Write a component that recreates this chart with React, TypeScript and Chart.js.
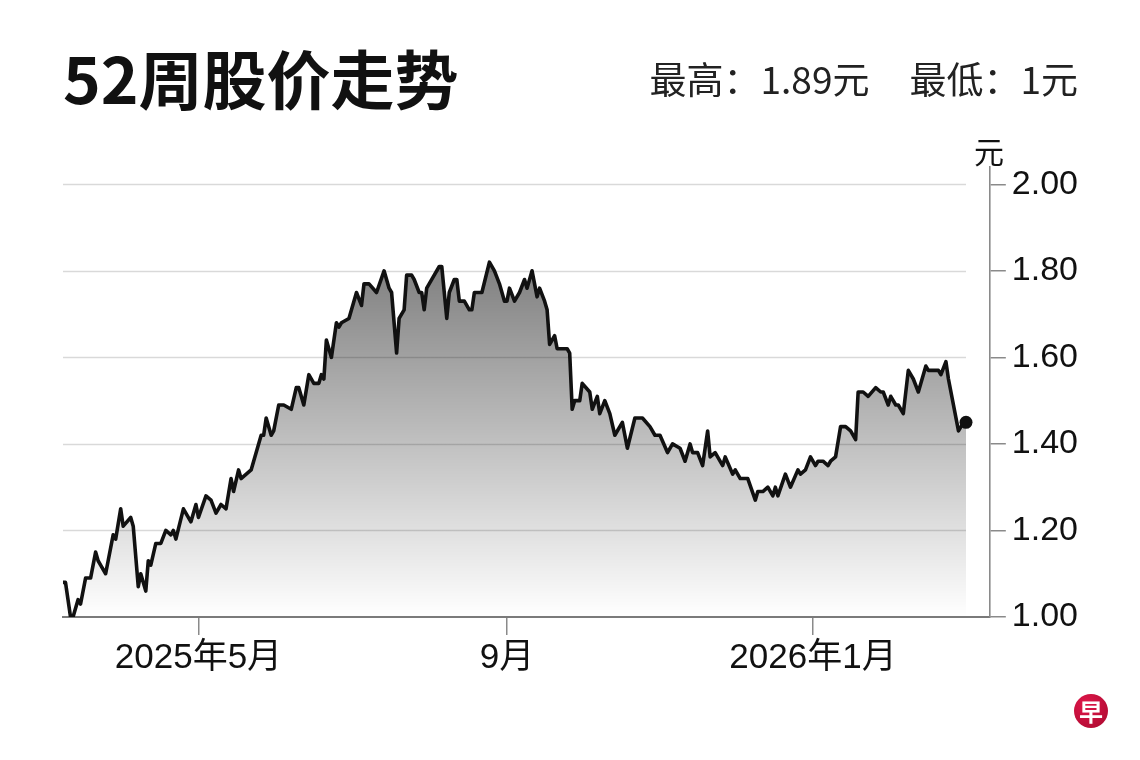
import React, { useEffect, useRef } from "react";
import { Chart, registerables } from "chart.js";

Chart.register(...registerables);

// day 0 = 2025-03-08 (first point of the 52-week window)
const startDate = "2025-03-08";
const dayOffsets = [
  0, 1, 3, 4, 6, 7, 9, 11, 13, 14, 15, 17, 20, 21, 23, 24, 27, 28, 30, 31,
  33, 34, 35, 37, 39, 41, 43, 44, 45, 48, 51, 53, 54, 57, 59, 61, 63, 65, 67, 68,
  70, 71, 75, 79, 80, 81, 83, 84, 86, 88, 91, 93, 94, 96, 98, 100, 102, 103, 104, 105,
  107, 109, 110, 111, 114, 117, 119, 120, 122, 125, 128, 130, 131, 133, 134, 136, 137, 139, 140, 142,
  143, 144, 145, 148, 150, 151, 153, 154, 156, 157, 158, 160, 162, 163, 164, 166, 167, 170, 172, 174,
  176, 177, 178, 180, 182, 184, 185, 187, 189, 190, 192, 193, 194, 196, 197, 199, 201, 202, 203, 204,
  206, 207, 210, 211, 213, 214, 216, 218, 220, 223, 225, 228, 231, 234, 236, 238, 241, 243, 246, 248,
  250, 251, 253, 255, 257, 258, 260, 263, 264, 267, 268, 270, 273, 276, 277, 279, 281, 283, 284, 285,
  288, 290, 293, 294, 296, 298, 300, 301, 303, 305, 306, 308, 310, 312, 314, 316, 317, 319, 321, 324,
  326, 327, 329, 330, 332, 333, 335, 337, 339, 341, 344, 345, 349, 350, 352, 353, 357, 358, 360,
];
const prices = [
  1.08, 1.08, 1.0, 1.0, 1.04, 1.03, 1.09, 1.09, 1.15, 1.13, 1.12, 1.1, 1.19, 1.18, 1.25, 1.21, 1.23, 1.21, 1.07, 1.1,
  1.06, 1.13, 1.12, 1.17, 1.17, 1.2, 1.19, 1.2, 1.18, 1.25, 1.22, 1.26, 1.23, 1.28, 1.27, 1.24, 1.26, 1.25, 1.32, 1.29,
  1.34, 1.32, 1.34, 1.42, 1.42, 1.46, 1.42, 1.43, 1.49, 1.49, 1.48, 1.53, 1.53, 1.49, 1.56, 1.54, 1.54, 1.56, 1.55, 1.64,
  1.6, 1.68, 1.67, 1.68, 1.69, 1.75, 1.72, 1.77, 1.77, 1.75, 1.8, 1.76, 1.75, 1.61, 1.69, 1.71, 1.79, 1.79, 1.78, 1.75,
  1.75, 1.71, 1.76, 1.79, 1.81, 1.81, 1.69, 1.75, 1.78, 1.78, 1.73, 1.73, 1.71, 1.71, 1.75, 1.75, 1.75, 1.82, 1.8, 1.77,
  1.73, 1.73, 1.76, 1.73, 1.75, 1.78, 1.76, 1.8, 1.74, 1.76, 1.73, 1.71, 1.63, 1.65, 1.62, 1.62, 1.62, 1.61, 1.48, 1.5,
  1.5, 1.54, 1.52, 1.48, 1.51, 1.47, 1.5, 1.47, 1.42, 1.45, 1.39, 1.46, 1.46, 1.44, 1.42, 1.42, 1.38, 1.4, 1.39, 1.36,
  1.4, 1.38, 1.38, 1.35, 1.43, 1.37, 1.38, 1.35, 1.37, 1.33, 1.34, 1.32, 1.32, 1.27, 1.29, 1.29, 1.3, 1.28, 1.3, 1.28,
  1.33, 1.3, 1.34, 1.33, 1.34, 1.37, 1.35, 1.36, 1.36, 1.35, 1.36, 1.37, 1.44, 1.44, 1.43, 1.41, 1.52, 1.52, 1.51, 1.53,
  1.52, 1.52, 1.49, 1.51, 1.49, 1.49, 1.47, 1.57, 1.55, 1.52, 1.58, 1.57, 1.57, 1.56, 1.59, 1.55, 1.43, 1.44, 1.45,
];

const xTickDays = [54, 177, 299];
const xTickLabels = ["2025年5月", "9月", "2026年1月"];
const yTicks = [1.0, 1.2, 1.4, 1.6, 1.8, 2.0];
const yMin = 1.0;
const yMax = 2.04;
const xMax = 369.5;

const title = "52周股价走势";
const highText = "最高：1.89元";
const lowText = "最低：1元";
const unitText = "元";

const axisFont = '"Liberation Sans", Arial, "Noto Sans CJK SC", sans-serif';
const cjkFont = '"Noto Sans CJK SC", "Noto Sans", sans-serif';

export default function App() {
  const canvasRef = useRef<HTMLCanvasElement | null>(null);

  useEffect(() => {
    if (!canvasRef.current) return;
    const lastIndex = prices.length - 1;
    const points = dayOffsets.map((d, i) => ({ x: d, y: prices[i] }));

    // gridlines stop where the data stops, not at the axis
    const shortGrid = {
      id: "shortGrid",
      beforeDatasetsDraw(chart: any) {
        const { ctx, chartArea, scales } = chart;
        const xEnd = scales.x.getPixelForValue(dayOffsets[lastIndex]);
        ctx.save();
        ctx.strokeStyle = "#d9d9d9";
        ctx.lineWidth = 1.6;
        yTicks.forEach((v) => {
          if (v === yMin) return;
          const y = Math.round(scales.y.getPixelForValue(v)) + 0.5;
          ctx.beginPath();
          ctx.moveTo(chartArea.left, y);
          ctx.lineTo(xEnd, y);
          ctx.stroke();
        });
        ctx.restore();
      },
    };

    const chart = new Chart(canvasRef.current, {
      type: "line",
      data: {
        datasets: [
          {
            data: points,
            borderColor: "#111",
            borderWidth: 3.6,
            borderJoinStyle: "round",
            borderCapStyle: "round",
            tension: 0,
            fill: "start",
            backgroundColor: (c: any) => {
              const { chart } = c;
              const area = chart.chartArea;
              if (!area) return "rgba(0,0,0,0.2)";
              const top = chart.scales.y.getPixelForValue(Math.max(...prices));
              const g = chart.ctx.createLinearGradient(0, top, 0, area.bottom);
              g.addColorStop(0, "rgba(0,0,0,0.5)");
              g.addColorStop(1, "rgba(0,0,0,0)");
              return g;
            },
            pointRadius: (c: any) => (c.dataIndex === lastIndex ? 6.5 : 0),
            pointHoverRadius: 0,
            pointBackgroundColor: "#111",
            pointBorderWidth: 0,
          },
        ],
      },
      options: {
        responsive: false,
        animation: false,
        events: [],
        layout: { padding: { left: 63, top: 167, right: 56, bottom: 79 } },
        plugins: { legend: { display: false }, tooltip: { enabled: false } },
        scales: {
          x: {
            type: "linear",
            min: 0,
            max: xMax,
            afterBuildTicks: (s: any) => {
              s.ticks = xTickDays.map((v) => ({ value: v }));
            },
            ticks: {
              callback: (v: any) => xTickLabels[xTickDays.indexOf(v)] ?? "",
              autoSkip: false,
              maxRotation: 0,
              color: "#111",
              padding: 2,
              font: { family: axisFont, size: 35 },
            },
            grid: { drawOnChartArea: false, drawTicks: true, tickLength: 18, color: "#8a8a8a", lineWidth: 1.5 },
            border: { display: true, color: "#7a7a7a", width: 2 },
          },
          y: {
            position: "right",
            min: yMin,
            max: yMax,
            afterBuildTicks: (s: any) => {
              s.ticks = yTicks.map((v) => ({ value: v }));
            },
            ticks: {
              callback: (v: any) => Number(v).toFixed(2),
              color: "#111",
              padding: 6,
              font: { family: axisFont, size: 34 },
            },
            grid: { drawOnChartArea: false, drawTicks: true, tickLength: 16, color: "#8a8a8a", lineWidth: 1.5 },
            border: { display: true, color: "#8a8a8a", width: 1.6 },
          },
        },
      },
      plugins: [shortGrid],
    });
    return () => chart.destroy();
  }, []);

  return (
    <div
      style={{
        position: "absolute",
        left: 0,
        top: 0,
        width: 1140,
        height: 760,
        background: "#fff",
        overflow: "hidden",
      }}
      data-start={startDate}
    >
      <canvas
        ref={canvasRef}
        width={1140}
        height={760}
        style={{ position: "absolute", left: 0, top: 0, width: 1140, height: 760 }}
      />
      <div
        style={{
          position: "absolute",
          left: 63,
          top: 44,
          fontFamily: cjkFont,
          fontWeight: 700,
          fontSize: 64,
          lineHeight: 1,
          color: "#111",
          whiteSpace: "nowrap",
        }}
      >
        {title}
      </div>
      <div
        style={{
          position: "absolute",
          right: 62,
          top: 60,
          fontFamily: cjkFont,
          fontSize: 37,
          lineHeight: 1,
          color: "#222",
          whiteSpace: "nowrap",
        }}
      >
        <span>{highText}</span>
        <span style={{ marginLeft: 40 }}>{lowText}</span>
      </div>
      <div
        style={{
          position: "absolute",
          left: 974,
          top: 135,
          width: 30,
          textAlign: "center",
          fontFamily: cjkFont,
          fontSize: 30,
          lineHeight: 1,
          color: "#111",
        }}
      >
        {unitText}
      </div>
      <div
        style={{
          position: "absolute",
          left: 1074,
          top: 694,
          width: 34,
          height: 34,
          borderRadius: "50%",
          background: "radial-gradient(circle at 35% 30%, #e0164a, #a80a2e)",
          color: "#fff",
          fontFamily: cjkFont,
          fontWeight: 700,
          fontSize: 24,
          lineHeight: "34px",
          textAlign: "center",
        }}
      >
        早
      </div>
    </div>
  );
}
